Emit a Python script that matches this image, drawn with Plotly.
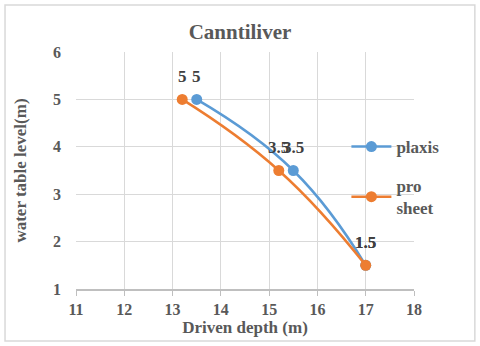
import plotly.graph_objects as go

# data
plaxis_x = [13.5, 15.5, 17]
plaxis_y = [5, 3.5, 1.5]
pro_x = [13.2, 15.2, 17]
pro_y = [5, 3.5, 1.5]

x_ticks = [11, 12, 13, 14, 15, 16, 17, 18]
y_ticks = [1, 2, 3, 4, 5, 6]

font_family = "Liberation Serif"
grey_text = "#595959"

fig = go.Figure()
fig.add_trace(go.Scatter(
    x=plaxis_x, y=plaxis_y, mode="lines+markers", name="plaxis",
    line=dict(color="#5B9BD5", width=2.5, shape="spline", smoothing=1.3),
    marker=dict(size=11, color="#5B9BD5"),
    legendgroup="a",
))
fig.add_trace(go.Scatter(
    x=pro_x, y=pro_y, mode="lines+markers", name="pro<br>sheet",
    line=dict(color="#ED7D31", width=2.5, shape="spline", smoothing=1.3),
    marker=dict(size=11, color="#ED7D31"),
    legendgroup="b",
))

# data labels above the points
for xs, ys in [(plaxis_x, plaxis_y), (pro_x, pro_y)]:
    for x, y in zip(xs, ys):
        fig.add_annotation(x=x, y=y, text=f"{y:g}", showarrow=False, yshift=23,
                           font=dict(family=font_family, size=17, color="#404040", weight="bold"))

# outer chart border
fig.add_shape(type="rect", xref="paper", yref="paper",
              x0=-0.21, x1=1.18, y0=-0.219, y1=1.198,
              line=dict(color="#d9d9d9", width=1.5), fillcolor="rgba(0,0,0,0)")

axis_font = dict(family=font_family, size=16, color=grey_text, weight="bold")
title_font = dict(family=font_family, size=17, color=grey_text, weight="bold")

fig.update_layout(
    title=dict(text="Canntiliver", x=0.5, xanchor="center", y=0.908, yanchor="middle",
               font=dict(family=font_family, size=21, color=grey_text, weight="bold")),
    width=480, height=346,
    margin=dict(l=76, r=66, t=52, b=57, autoexpand=False),
    paper_bgcolor="white", plot_bgcolor="white",
    font=dict(family=font_family, color=grey_text),
    showlegend=True,
    legend=dict(x=0.8, xanchor="left", y=0.675, yanchor="top", itemwidth=40,
                bgcolor="rgba(255,255,255,0)", tracegroupgap=14,
                font=dict(family=font_family, size=17, color=grey_text, weight="bold")),
    xaxis=dict(range=[11, 18], tickvals=x_ticks, showgrid=True, gridcolor="#d9d9d9",
               zeroline=False, showline=True, linecolor="#bfbfbf", linewidth=1.5,
               ticks="outside", ticklen=5, tickcolor="#bfbfbf", tickfont=axis_font,
               title=dict(text="Driven depth (m)", standoff=3, font=title_font)),
    yaxis=dict(range=[1, 6], tickvals=y_ticks, showgrid=True, gridcolor="#d9d9d9",
               zeroline=False, showline=False, tickfont=axis_font, ticklabelstandoff=14,
               title=dict(text="water table level(m)", standoff=22, font=title_font)),
)

fig.write_html("out.html", config={"displayModeBar": False},
               post_script="document.body.style.margin='0';")
